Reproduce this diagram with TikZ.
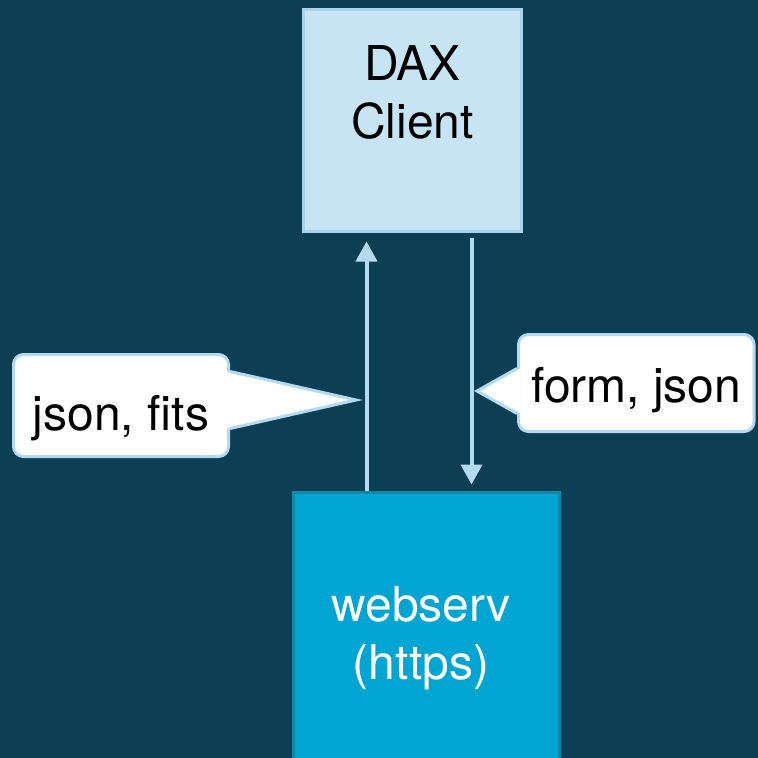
\documentclass[tikz,border=0pt]{standalone}
\usepackage{fontspec}
\setmainfont{TeX Gyre Heros}
\usetikzlibrary{arrows.meta}

\definecolor{bgteal}{HTML}{0C3E56}
\definecolor{clientfill}{HTML}{C7E4F5}
\definecolor{clientline}{HTML}{A8D3EE}
\definecolor{servfill}{HTML}{00A6D1}
\definecolor{servline}{HTML}{0C88AB}
\definecolor{flowblue}{HTML}{B4DAF2}

\begin{document}
\begin{tikzpicture}[
                x=1pt,y=-1pt,
                boxfont/.style={font=\fontsize{48}{58}\selectfont},
                clientbox/.style={draw=clientline,fill=clientfill,line width=3pt,minimum width=218pt,minimum height=222pt,inner sep=0pt},
                servbox/.style={draw=servline,fill=servfill,line width=3pt,minimum width=266pt,minimum height=310pt,inner sep=0pt},
                flow/.style={draw=flowblue,line width=4pt,-{Triangle[width=21pt,length=20pt]}},
                bubble/.style={draw=flowblue,fill=white,line width=3pt},
                tag/.style={boxfont,inner sep=0pt,anchor=base}] %

\useasboundingbox (0,0) rectangle (758,758);
\clip (0,0) rectangle (758,758);
\fill[bgteal] (0,0) rectangle (758,758);

                    % client
                    \node[clientbox] (DAX) at (412.5,120.5) {};
                    \node[boxfont,align=center,inner sep=0pt,anchor=north] (DAXT) at (412.5,45) {DAX\\Client};

                    % server
                    \node[servbox] (WEB) at (426.5,647.5) {};
                    \node[boxfont,align=center,inner sep=0pt,anchor=north,text=white] (WEBT) at (421,586) {webserv\\(https)};

                    % requests and answers
                    \draw[flow,shorten >=8.5pt] ([xshift=-60pt]WEB.north) -- ([xshift=-46pt]DAX.south);
                    \draw[flow,shorten <=5pt,shorten >=6.5pt] ([xshift=59pt]DAX.south) -- ([xshift=45pt]WEB.north);

                    \coordinate (UPT) at (356,400);
                    \coordinate (DNT) at (477,391);

                    % json, fits
                    \node[tag,bubble,rounded corners=10pt,minimum width=215pt,text height=75.5pt,text depth=26.5pt] (JF) at (121,430) {json, fits};
                    \fill[white] ([xshift=-3pt,yshift=-18.5pt]JF.north east) -- (UPT) -- ([xshift=-3pt,yshift=29.5pt]JF.south east) -- cycle;
                    \draw[flowblue,line width=3pt] ([yshift=-18.5pt]JF.north east) -- (UPT) -- ([yshift=29.5pt]JF.south east);

                    % form, json
                    \node[tag,bubble,rounded corners=10pt,minimum width=235.5pt,text height=67.5pt,text depth=29.5pt] (FJ) at (636.25,402) {form, json};
                    \fill[white] ([xshift=3pt,yshift=-35.5pt]FJ.north west) -- (DNT) -- ([xshift=3pt,yshift=19.5pt]FJ.south west) -- cycle;
                    \draw[flowblue,line width=3pt] ([yshift=-35.5pt]FJ.north west) -- (DNT) -- ([yshift=19.5pt]FJ.south west);

\end{tikzpicture}
\end{document}
